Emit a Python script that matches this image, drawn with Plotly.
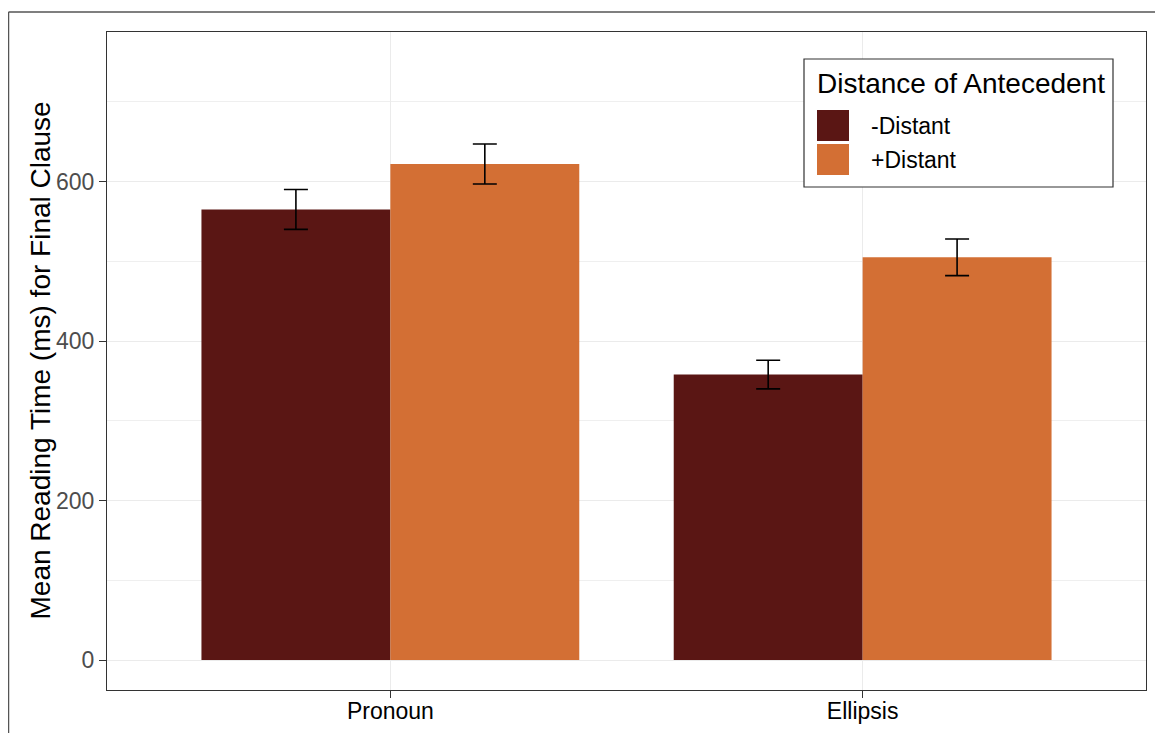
import plotly.graph_objects as go

# ---- data ----
categories = ["Pronoun", "Ellipsis"]
series_names = ["-Distant", "+Distant"]
series_colors = ["#5A1614", "#D36F34"]
means_minus = [565, 358]
means_plus = [622, 505]
err_minus = [25, 18]
err_plus = [25, 23]
y_ticks = [0, 200, 400, 600]
legend_title = "Distance of Antecedent"
y_title = "Mean Reading Time (ms) for Final Clause"

FONT = "Liberation Sans, Arial, Helvetica, sans-serif"
OFF = 8  # page body margin
W, H = 1163 - OFF, 733 - OFF
L, R, T, B = 107 - OFF, 17, 32 - OFF, 43
PW, PH = W - L - R, H - T - B


def px_x(px):
    # px: position in the browser viewport
    return (px - OFF - L) / PW


def px_y(py):
    return (H - B - (py - OFF)) / PH


fig = go.Figure()
for name, color, vals, errs in zip(series_names, series_colors,
                                   [means_minus, means_plus], [err_minus, err_plus]):
    fig.add_trace(go.Bar(
        x=categories, y=vals, name=name, marker=dict(color=color, line=dict(width=0)),
        error_y=dict(type="data", array=errs, visible=True, color="black",
                     thickness=1.6, width=12),
        showlegend=False,
    ))

shapes = []
annotations = []

# outer frame (top and left edges visible)
frame_col = "#555555"
shapes.append(dict(type="line", xref="paper", yref="paper", x0=px_x(8.5), x1=px_x(1175),
                   y0=px_y(12), y1=px_y(12), line=dict(color=frame_col, width=1.5)))
shapes.append(dict(type="line", xref="paper", yref="paper", x0=px_x(8.5), x1=px_x(8.5),
                   y0=px_y(12), y1=px_y(745), line=dict(color=frame_col, width=1.5)))

# y-axis title
annotations.append(dict(text=y_title, xref="paper", yref="paper", x=px_x(39.5), y=0.5,
                        xanchor="center", yanchor="middle", textangle=-90, showarrow=False,
                        font=dict(family=FONT, size=28, color="black")))

# manual legend
shapes.append(dict(type="rect", xref="paper", yref="paper", x0=px_x(804), x1=px_x(1113),
                   y0=px_y(187), y1=px_y(59), line=dict(color="#333333", width=1.2),
                   fillcolor="white", layer="above"))
annotations.append(dict(text=legend_title, xref="paper", yref="paper", x=px_x(815),
                        y=px_y(83), xanchor="left", yanchor="middle", showarrow=False,
                        font=dict(family=FONT, size=28, color="black")))
key_tops = [110, 144]
for name, color, kt in zip(series_names, series_colors, key_tops):
    shapes.append(dict(type="rect", xref="paper", yref="paper", x0=px_x(817), x1=px_x(849),
                       y0=px_y(kt + 31), y1=px_y(kt), line=dict(width=0), fillcolor=color,
                       layer="above"))
    annotations.append(dict(text=name, xref="paper", yref="paper", x=px_x(869),
                            y=px_y(kt + 15.5), xanchor="left", yanchor="middle",
                            showarrow=False, font=dict(family=FONT, size=23, color="black")))

fig.update_layout(
    width=W, height=H,
    margin=dict(l=L, r=R, t=T, b=B, pad=0),
    paper_bgcolor="white", plot_bgcolor="white",
    barmode="group", bargap=0.2, bargroupgap=0,
    font=dict(family=FONT),
    shapes=shapes, annotations=annotations,
    showlegend=False,
)
fig.update_xaxes(
    type="category", range=[-0.6, 1.6], automargin=False,
    showgrid=True, gridcolor="#EBEBEB", gridwidth=1.4,
    showline=True, mirror=True, linecolor="#333333", linewidth=1.2,
    ticks="outside", ticklen=7, tickwidth=1.3, tickcolor="#333333",
    tickfont=dict(family=FONT, size=23, color="black"),
    ticklabelstandoff=-7,
    zeroline=False,
)
fig.update_yaxes(
    range=[-37.5, 787.5], tickmode="array", tickvals=y_ticks, automargin=False,
    ticktext=[str(v) for v in y_ticks],
    showgrid=True, gridcolor="#EBEBEB", gridwidth=1.4,
    minor=dict(tickmode="array", tickvals=[100, 300, 500, 700], showgrid=True,
               gridcolor="#EFEFEF", gridwidth=0.7, ticks=""),
    showline=True, mirror=True, linecolor="#333333", linewidth=1.2,
    ticks="outside", ticklen=7, tickwidth=1.3, tickcolor="#333333",
    tickfont=dict(family=FONT, size=23, color="#4D4D4D"),
    zeroline=False,
)

fig.write_html("out.html")
